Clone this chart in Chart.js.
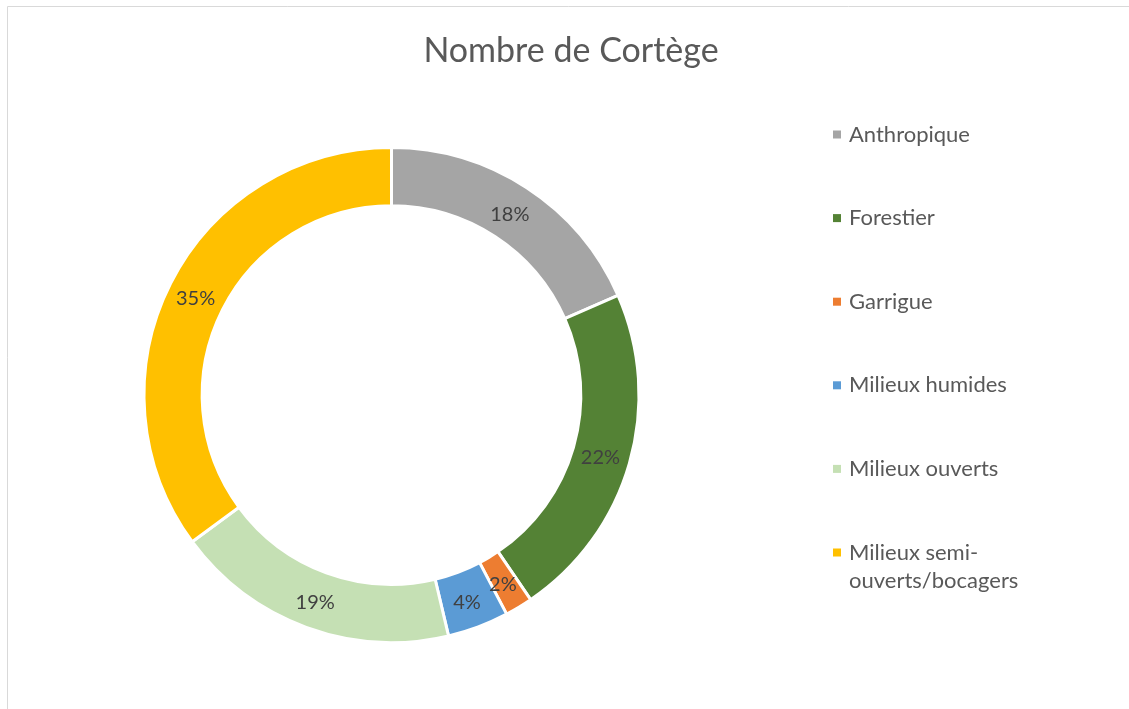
<!DOCTYPE html>
<html>
<head>
<meta charset="utf-8">
<script src="https://cdn.jsdelivr.net/npm/chart.js@4.4.1/dist/chart.umd.min.js"></script>
<style>
  html, body { margin: 0; padding: 0; background: #fff; }
  canvas { display: block; }
</style>
</head>
<body>
<canvas id="donut" width="1129" height="709"></canvas>
<script>
// Données du graphique (parts en %)
const chartTitle = 'Nombre de Cortège';
const categories = ['Anthropique', 'Forestier', 'Garrigue', 'Milieux humides', 'Milieux ouverts', ['Milieux semi-', 'ouverts/bocagers']];
const shares = [18.4, 22.1, 1.8, 4.0, 18.6, 35.1];
const sliceColors = ['#A5A5A5', '#548235', '#ED7D31', '#5B9BD5', '#C5E0B4', '#FFC000'];

const FONT = 'Lato, "Liberation Sans", sans-serif';
const TEXT_GREY = '#595959';

// Plugin pour le cadre, le titre, les pourcentages et la légende
const decorPlugin = {
    id: 'decor',
    afterDraw(chart) {
        const ctx = chart.ctx;
        ctx.save();

        // cadre gris
        ctx.strokeStyle = '#d9d9d9';
        ctx.lineWidth = 1;
        ctx.beginPath();
        ctx.moveTo(7.5, 709);
        ctx.lineTo(7.5, 6.5);
        ctx.lineTo(1129, 6.5);
        ctx.stroke();

        // titre
        ctx.fillStyle = TEXT_GREY;
        ctx.font = '34px ' + FONT;
        ctx.textAlign = 'center';
        ctx.textBaseline = 'middle';
        ctx.fillText(chartTitle, 571, 51);

        // pourcentages sur les parts
        const meta = chart.getDatasetMeta(0);
        const total = shares.reduce((a, b) => a + b, 0);
        ctx.font = '20px ' + FONT;
        ctx.fillStyle = '#404040';
        meta.data.forEach((arc, i) => {
            const pos = arc.tooltipPosition();
            const pct = Math.round(shares[i] / total * 100) + '%';
            ctx.fillText(pct, pos.x - 1, pos.y + 2.5);
        });

        // légende
        ctx.font = '22px ' + FONT;
        ctx.textAlign = 'left';
        let y = 134.5;
        categories.forEach((cat, i) => {
            const lines = Array.isArray(cat) ? cat : [cat];
            ctx.fillStyle = sliceColors[i];
            ctx.fillRect(833, y - 4, 8, 8);
            ctx.fillStyle = TEXT_GREY;
            lines.forEach((line, k) => {
                ctx.fillText(line, 849, y + k * 28);
            });
            y += 83.6;
        });

        ctx.restore();
    }
};

const ctx = document.getElementById('donut').getContext('2d');
new Chart(ctx, {
    type: 'doughnut',
    data: {
        labels: categories,
        datasets: [{
            data: shares,
            backgroundColor: sliceColors,
            borderColor: '#ffffff',
            borderWidth: 3
        }]
    },
    options: {
        responsive: false,
        animation: false,
        cutout: '76.5%',
        layout: {
            padding: { left: 142, right: 488, top: 146, bottom: 65 }
        },
        plugins: {
            legend: { display: false },
            title: { display: false },
            tooltip: { enabled: false }
        }
    },
    plugins: [decorPlugin]
});
</script>
</body>
</html>
